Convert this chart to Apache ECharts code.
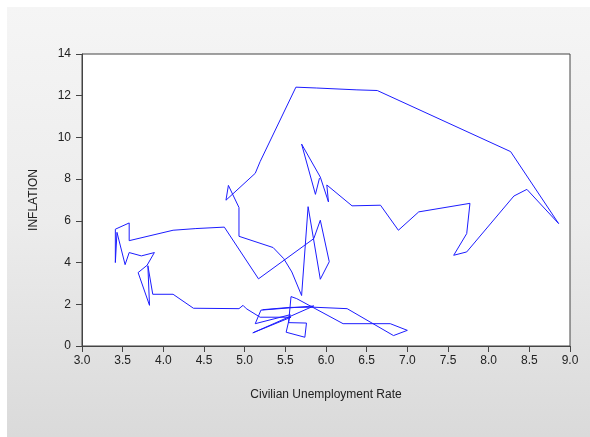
<!DOCTYPE html>
<html>
<head>
<meta charset="utf-8">
<script src="https://cdn.jsdelivr.net/npm/echarts@6/dist/echarts.min.js"></script>
<style>
  html, body { margin: 0; padding: 0; background: #ffffff; }
  #wrap { position: relative; width: 590px; height: 437px; overflow: hidden; background: #ffffff; }
  #panel { position: absolute; left: 7px; top: 7px; right: 0; bottom: 0;
           background: linear-gradient(to bottom, #f5f5f5 0%, #ececec 50%, #dadada 100%); }
  #chart { position: absolute; left: 0; top: 0; width: 590px; height: 437px; }
</style>
</head>
<body>
<div id="wrap"><div id="panel"></div><div id="chart"></div></div>
<script>
// Civilian unemployment rate (x) and inflation (y), in time order
const unemployment = [
  5.22, 5.55, 5.85, 6.26, 6.83, 7.00, 6.79, 6.21, 5.64, 5.57,
  5.54, 5.76, 5.74, 5.51, 5.56, 5.13, 5.20, 5.85, 5.10, 5.57,
  5.19, 5.02, 4.98, 4.93, 4.37, 4.12, 3.87, 3.81, 3.83, 3.69,
  3.80, 3.89, 3.73, 3.58, 3.53, 3.43, 3.41, 3.41, 3.58, 3.58,
  4.12, 4.40, 4.75, 5.17, 5.85, 5.93, 6.04, 5.93, 5.78, 5.70,
  5.58, 5.48, 5.35, 4.93, 4.93, 4.80, 4.77, 5.13, 5.19, 5.63,
  5.88, 6.38, 6.63, 8.27, 8.86, 8.47, 8.31, 7.73, 7.57, 7.73,
  7.77, 7.14, 6.89, 6.67, 6.32, 6.01, 6.03, 5.93, 5.70, 5.87,
  5.92
];
const inflation = [
  1.74, 1.85, 1.86, 1.79, 0.50, 0.75, 1.07, 1.07, 2.27, 2.37,
  1.12, 1.10, 0.42, 0.66, 1.50, 1.07, 1.72, 1.92, 0.63, 1.38,
  1.38, 1.79, 1.95, 1.79, 1.81, 2.48, 2.48, 3.85, 1.95, 3.52,
  3.87, 4.48, 4.32, 4.48, 3.90, 5.45, 4.00, 5.60, 5.90, 5.05,
  5.55, 5.63, 5.70, 3.22, 5.15, 6.03, 4.04, 3.20, 6.68, 2.42,
  3.55, 4.19, 4.72, 5.26, 6.64, 7.70, 6.99, 8.28, 8.84, 12.41,
  12.37, 12.28, 12.25, 9.32, 5.87, 7.51, 7.19, 4.51, 4.35, 5.39,
  6.84, 6.43, 5.55, 6.75, 6.72, 7.72, 6.91, 8.10, 9.68, 7.27,
  8.05
];
const xTitle = 'Civilian Unemployment Rate';
const yTitle = 'INFLATION';

const points = unemployment.map((u, i) => [u, inflation[i]]);

const chart = echarts.init(document.getElementById('chart'), null, { renderer: 'canvas' });
const axisFont = { fontFamily: 'Liberation Sans, Arial, sans-serif', fontSize: 12, color: '#222' };
chart.setOption({
  animation: false,
  backgroundColor: 'transparent',
  grid: { left: 82, right: 20, top: 54, bottom: 91, show: true, backgroundColor: '#ffffff',
          borderColor: '#444', borderWidth: 1 },
  xAxis: {
    type: 'value', min: 3, max: 9, interval: 0.5,
    name: xTitle, nameLocation: 'middle', nameGap: 43,
    nameTextStyle: axisFont,
    axisLine: { show: true, lineStyle: { color: '#444', width: 1 } },
    axisTick: { show: true, length: 6, lineStyle: { color: '#444' } },
    axisLabel: Object.assign({ margin: 9, formatter: v => v.toFixed(1) }, axisFont),
    splitLine: { show: false }
  },
  yAxis: {
    type: 'value', min: 0, max: 14, interval: 2,
    name: yTitle, nameLocation: 'middle', nameGap: 42, nameRotate: 90,
    nameTextStyle: Object.assign({}, axisFont, { letterSpacing: 1 }),
    axisLine: { show: true, lineStyle: { color: '#444', width: 1 } },
    axisTick: { show: true, length: 6, lineStyle: { color: '#444' } },
    axisLabel: Object.assign({ margin: 11 }, axisFont),
    splitLine: { show: false }
  },
  series: [{
    type: 'line',
    data: points,
    showSymbol: false,
    symbol: 'none',
    lineStyle: { color: '#1c1cff', width: 1 },
    itemStyle: { color: '#1c1cff' }
  }]
});
</script>
</body>
</html>
